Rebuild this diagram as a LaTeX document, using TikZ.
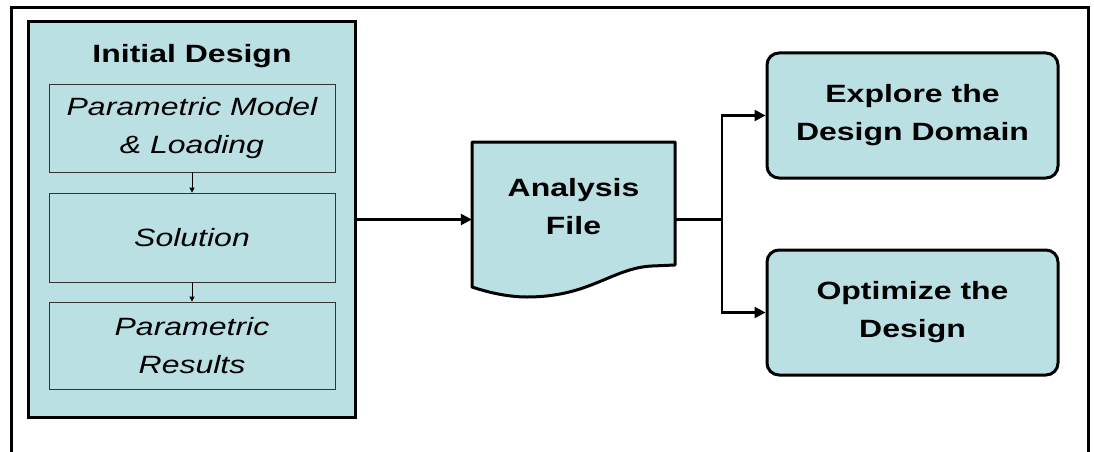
\documentclass[tikz,border=0pt]{standalone}
\usepackage{fontspec}
\setmainfont[FakeStretch=1.28]{Liberation Sans}
\usetikzlibrary{arrows.meta,positioning}
\definecolor{boxfill}{RGB}{186,224,227}

\begin{document}
\begin{tikzpicture}[x=1pt,y=-1pt,
    bigbox/.style={draw,line width=3pt,fill=boxfill},
    stage/.style={draw=black!80,line width=0.8pt,fill=boxfill,minimum width=286pt,
      align=center,font=\fontsize{25}{38}\selectfont\itshape},
    goal/.style={draw,line width=3pt,fill=boxfill,rounded corners=12pt,minimum width=291pt,
      minimum height=125pt,align=center,font=\fontsize{25}{38}\selectfont\bfseries},
    flow/.style={line width=2.5pt,-{Triangle[length=11pt,width=11pt]}},
    substep/.style={line width=0.8pt,-{Triangle[length=5pt,width=5pt]}}]
  \useasboundingbox (0,0) rectangle (1094,452);
  \draw[line width=3pt] (11,452) -- (11,8) -- (1088,8) -- (1088,452);

  % initial design block
  \node[bigbox,minimum width=327pt,minimum height=395pt] (init) at (191.5,219.5) {};
  \node[font=\fontsize{25}{30}\selectfont\bfseries] (title) at (192,56) {Initial Design};
  \node[stage,minimum height=88pt] (model) at (192,128) {Parametric Model\\\& Loading};
  \node[stage,minimum height=89pt] (solve) at (192,237.5) {Solution};
  \node[stage,minimum height=87pt] (result) at (192,345.5) {Parametric\\Results};
  \draw[substep] (model) -- (solve);
  \draw[substep] (solve) -- (result);

  % analysis file
  \draw[line width=3pt,fill=boxfill,line join=round] (472,142) -- (675,142) -- (675,265) -- (652,266)
    .. controls (612,268) and (590,297) .. (527,297)
    .. controls (507,297) and (487,292) .. (472,287) -- cycle;
  \node[minimum width=203pt,align=center,font=\fontsize{25}{38}\selectfont\bfseries] (afile)
    at (573.5,207) {Analysis\\File};
  \draw[flow] (init.east) -- (init.east -| afile.west);

  % targets
  \node[goal] (explore) at (912.5,115.5) {Explore the\\Design Domain};
  \node[goal] (optim) at (912.5,312.5) {Optimize the\\Design};
  \coordinate (split) at (722,219.5);
  \draw[line width=2.5pt] (init.east -| afile.east) -- (split);
  \draw[flow] (split) |- (explore.west);
  \draw[flow] (split) |- (optim.west);
\end{tikzpicture}
\end{document}
